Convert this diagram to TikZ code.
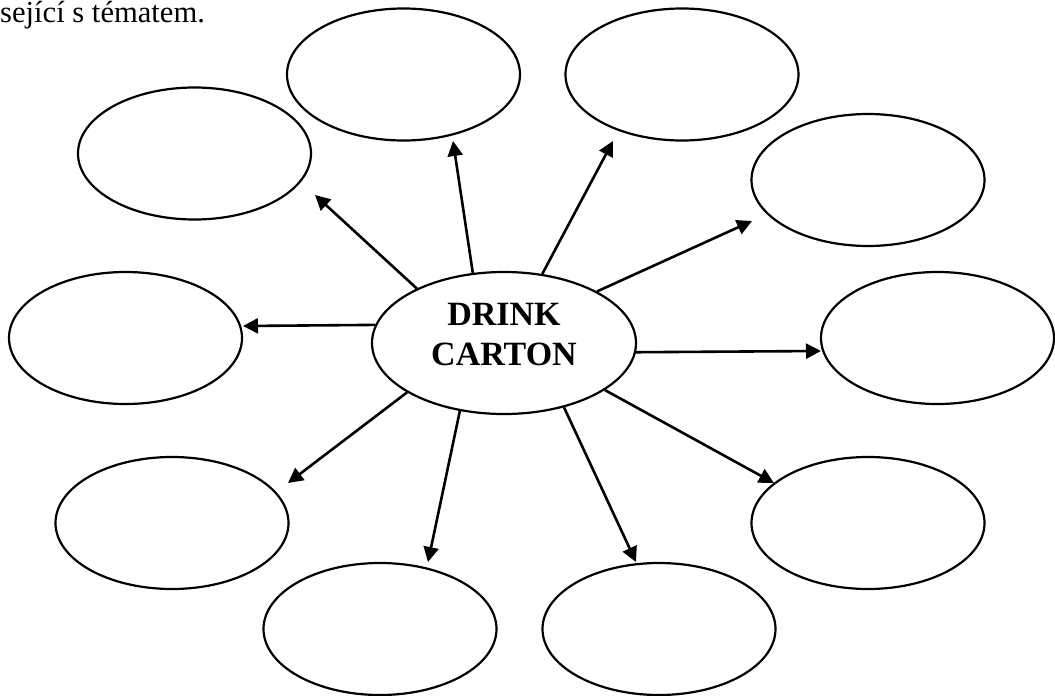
\documentclass[tikz,border=0pt]{standalone}
\usepackage{fontspec}
\setmainfont{Liberation Serif}
\usetikzlibrary{arrows.meta,shapes.geometric}

\begin{document}
\begin{tikzpicture}[x=1pt,y=-1pt,
  bub/.style={ellipse,draw,line width=2.2pt,minimum width=233pt,minimum height=132pt},
  arr/.style={line width=2.6pt,-{Triangle[length=15pt,width=15pt]}}]
\useasboundingbox (0,0) rectangle (1055,696);
\node [anchor=base west,inner sep=0pt,font=\fontsize{30.6}{36}\selectfont] (head) at (0,22) {sející s tématem.};
\node [ellipse,draw,line width=2.2pt,minimum width=264pt,minimum height=142pt,
  align=center,text depth=17pt,font=\fontsize{34}{40}\selectfont\bfseries] (drink) at (504,343) {DRINK\\CARTON};
\node [bub] (a) at (194.5,153.5) {};
\node [bub] (b) at (403.5,74.5) {};
\node [bub] (c) at (682,74.5) {};
\node [bub] (d) at (868,180) {};
\node [bub] (e) at (125.5,338) {};
\node [bub] (f) at (937.5,338) {};
\node [bub] (g) at (172,523) {};
\node [bub] (h) at (380,629) {};
\node [bub] (i) at (659,629) {};
\node [bub] (j) at (868,523) {};
\coordinate (ta) at (315,195);
\coordinate (tb) at (453,141);
\coordinate (tc) at (613,141);
\coordinate (td) at (752,221);
\coordinate (te) at (243,326);
\coordinate (tf) at (821,351);
\coordinate (tg) at (288,483);
\coordinate (th) at (428,562);
\coordinate (ti) at (636,562);
\coordinate (tj) at (774,483);
\draw [arr] (drink.148) -- (ta);
\draw [arr] (drink.114) -- (tb);
\draw [arr] (drink.61) -- (tc);
\draw [arr] (drink.29) -- (td);
\draw [arr] (drink.172) -- (te);
\draw [arr] (drink.-4) -- (tf);
\draw [arr] (drink.207) -- (tg);
\draw [arr] (drink.237) -- (th);
\draw [arr] (drink.313) -- (ti);
\draw [arr] (drink.335) -- (tj);
\end{tikzpicture}
\end{document}
